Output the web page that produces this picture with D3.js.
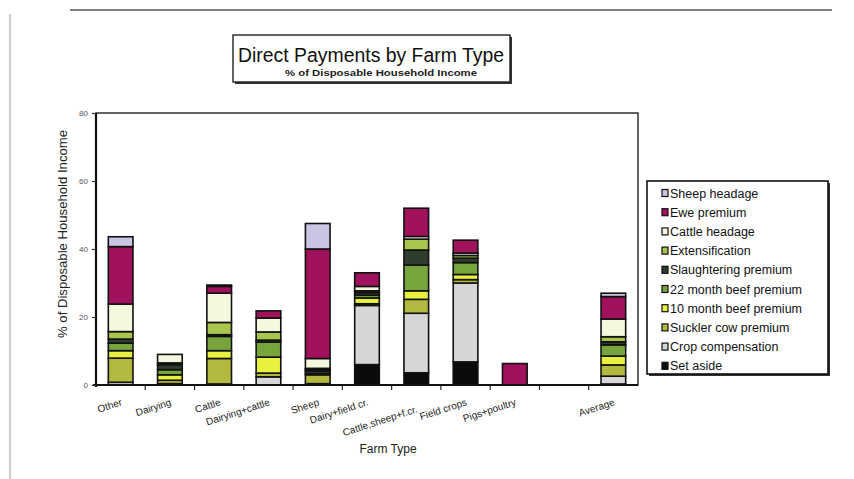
<!DOCTYPE html>
<html>
<head>
<meta charset="utf-8">
<script src="https://cdn.jsdelivr.net/npm/d3@7"></script>
<style>
  html, body { margin: 0; padding: 0; background: #ffffff; }
  svg { display: block; font-family: "Liberation Sans", Arial, Helvetica, sans-serif; }
</style>
</head>
<body>
<svg id="chart" width="854" height="479"></svg>
<script>
// Farm types along the x axis (one empty slot before the average)
const categories = ["Other", "Dairying", "Cattle", "Dairying+cattle", "Sheep",
  "Dairy+field cr.", "Cattle,sheep+f.cr.", "Field crops", "Pigs+poultry", " ", "Average"];

// Payment components, % of disposable household income
const setAside       = [0,    0,   0,   0,   0,    6.0,  3.6,  6.8,  0,   0, 0.3];
const cropComp       = [0.8,  0.4, 0.3, 2.4, 0.4, 17.4, 17.5, 23.2,  0,   0, 2.3];
const sucklerCow     = [7.1,  1.0, 7.5, 1.1, 2.6,  0.5,  4.1,  1.0,  0,   0, 3.3];
const beef10         = [2.2,  1.6, 2.3, 4.7, 0.5,  1.7,  2.5,  1.5,  0,   0, 2.6];
const beef22         = [2.2,  1.5, 4.2, 4.4, 0.6,  0.8,  7.6,  3.5,  0,   0, 3.3];
const slaughtering   = [1.2,  1.5, 0.5, 0.6, 0.4,  0.8,  4.4,  1.3,  0,   0, 0.9];
const extensification= [2.2,  0.5, 3.6, 2.4, 0.4,  0.5,  3.2,  0.8,  0,   0, 1.5];
const cattleHeadage  = [8.1,  2.5, 8.6, 4.1, 2.9,  1.3,  0.8,  0.7,  0,   0, 5.2];
const ewePremium     = [16.9, 0,   2.0, 2.1, 32.2, 4.0,  8.3,  3.8,  6.3, 0, 6.6];
const sheepHeadage   = [2.9,  0,   0.4, 0,   7.5,  0,    0,    0,    0,   0, 1.0];

const seriesNames = ["Set aside", "Crop compensation", "Suckler cow premium",
  "10 month beef premium", "22 month beef premium", "Slaughtering premium",
  "Extensification", "Cattle headage", "Ewe premium", "Sheep headage"];
const seriesValues = [setAside, cropComp, sucklerCow, beef10, beef22, slaughtering,
  extensification, cattleHeadage, ewePremium, sheepHeadage];

const yTicks = [0, 20, 40, 60, 80];

const colors = {
  "Set aside": "#0b0b0b",
  "Crop compensation": "#d6d6d8",
  "Suckler cow premium": "#b2b93e",
  "10 month beef premium": "#e8f23e",
  "22 month beef premium": "#77a43c",
  "Slaughtering premium": "#2e3d2e",
  "Extensification": "#a9c64c",
  "Cattle headage": "#f5f8de",
  "Ewe premium": "#a0125c",
  "Sheep headage": "#c9c5e2"
};

// rows for d3.stack
const rows = categories.map((c, i) => {
  const r = { category: c };
  seriesNames.forEach((s, k) => { r[s] = seriesValues[k][i]; });
  return r;
});

const svg = d3.select("#chart");

// page edges
svg.append("line").attr("x1", 70).attr("x2", 832).attr("y1", 10).attr("y2", 10)
  .attr("stroke", "#555").attr("stroke-width", 1.5);
svg.append("line").attr("x1", 10).attr("x2", 10).attr("y1", 14).attr("y2", 479)
  .attr("stroke", "#999").attr("stroke-width", 1);

// plot area
const plot = { left: 96, right: 638, top: 113, bottom: 385 };

const x = d3.scaleBand().domain(categories)
  .range([plot.left, plot.right]).paddingInner(0.5).paddingOuter(0.25);
const y = d3.scaleLinear().domain([0, 80]).range([plot.bottom, plot.top]);

// bars
const stack = d3.stack().keys(seriesNames);
const layers = stack(rows);

svg.append("g").selectAll("g").data(layers).join("g")
  .attr("fill", d => colors[d.key])
  .selectAll("rect")
  .data(d => d.filter(p => p[1] - p[0] > 0))
  .join("rect")
  .attr("x", d => x(d.data.category))
  .attr("width", x.bandwidth())
  .attr("y", d => y(d[1]))
  .attr("height", d => y(d[0]) - y(d[1]))
  .attr("stroke", "#111")
  .attr("stroke-width", 1.6);

// frame
svg.append("rect")
  .attr("x", plot.left).attr("y", plot.top)
  .attr("width", plot.right - plot.left).attr("height", plot.bottom - plot.top)
  .attr("fill", "none").attr("stroke", "#222").attr("stroke-width", 1.4);
svg.append("line").attr("x1", plot.left).attr("x2", plot.left)
  .attr("y1", plot.top).attr("y2", plot.bottom + 2)
  .attr("stroke", "#111").attr("stroke-width", 2.2);
svg.append("line").attr("x1", plot.left - 3).attr("x2", plot.right)
  .attr("y1", plot.bottom).attr("y2", plot.bottom)
  .attr("stroke", "#111").attr("stroke-width", 2);

// y axis
const yAxis = d3.axisLeft(y).tickValues(yTicks).tickSize(4).tickPadding(4);
const gy = svg.append("g").attr("transform", `translate(${plot.left},0)`).call(yAxis);
gy.select(".domain").remove();
gy.selectAll(".tick line").attr("stroke", "#333").attr("stroke-width", 1.2);
gy.selectAll(".tick text").attr("font-size", 8).attr("fill", "#555");

// x axis ticks on the band boundaries
const step = x.step();
const bounds = categories.slice(0, -1).map(c => x(c) + x.bandwidth() / 2 + step / 2);
svg.append("g").selectAll("line").data(bounds).join("line")
  .attr("x1", d => d).attr("x2", d => d)
  .attr("y1", plot.bottom).attr("y2", plot.bottom + 5)
  .attr("stroke", "#222").attr("stroke-width", 1.2);

// x labels
svg.append("g").selectAll("text").data(categories).join("text")
  .attr("transform", (d, i) => {
    const cx = x(d) + x.bandwidth() / 2 + 2;
    const cy = i === 6 ? 412 : 405;
    return `translate(${cx},${cy}) rotate(-18)`;
  })
  .attr("text-anchor", "end")
  .attr("font-size", 10)
  .attr("fill", "#222")
  .text(d => d);

// axis titles
svg.append("text")
  .attr("x", 388).attr("y", 453)
  .attr("text-anchor", "middle").attr("font-size", 12).attr("fill", "#222")
  .text("Farm Type");
svg.append("text")
  .attr("transform", "translate(67,234) rotate(-90)")
  .attr("text-anchor", "middle").attr("font-size", 12.5).attr("fill", "#222")
  .attr("textLength", 208).attr("lengthAdjust", "spacingAndGlyphs")
  .text("% of Disposable Household Income");

// title box
svg.append("rect").attr("x", 235).attr("y", 37).attr("width", 277).attr("height", 47)
  .attr("fill", "#333");
svg.append("rect").attr("x", 233).attr("y", 35).attr("width", 277).attr("height", 47)
  .attr("fill", "#fff").attr("stroke", "#222").attr("stroke-width", 1.4);
svg.append("text").attr("x", 371).attr("y", 62)
  .attr("text-anchor", "middle").attr("font-size", 20).attr("fill", "#111")
  .attr("textLength", 266).attr("lengthAdjust", "spacingAndGlyphs")
  .text("Direct Payments by Farm Type");
svg.append("text").attr("x", 381).attr("y", 76)
  .attr("text-anchor", "middle").attr("font-size", 9.5).attr("font-weight", "bold").attr("fill", "#222")
  .attr("textLength", 192).attr("lengthAdjust", "spacingAndGlyphs")
  .text("% of Disposable Household Income");

// legend
const lg = { x: 647, y: 181, w: 181, h: 193 };
svg.append("rect").attr("x", lg.x + 2).attr("y", lg.y + 2).attr("width", lg.w).attr("height", lg.h)
  .attr("fill", "#333");
svg.append("rect").attr("x", lg.x).attr("y", lg.y).attr("width", lg.w).attr("height", lg.h)
  .attr("fill", "#fff").attr("stroke", "#111").attr("stroke-width", 1.6);
const legendItems = seriesNames.slice().reverse();
const li = svg.append("g").selectAll("g").data(legendItems).join("g")
  .attr("transform", (d, i) => `translate(${lg.x + 15},${lg.y + 12 + i * 19.2})`);
li.append("rect").attr("x", 0).attr("y", -3.5).attr("width", 6).attr("height", 7)
  .attr("fill", d => colors[d]).attr("stroke", "#111").attr("stroke-width", 1.2);
li.append("text").attr("x", 8).attr("y", 4.5)
  .attr("font-size", 12.5).attr("fill", "#111")
  .text(d => d);
</script>
</body>
</html>
